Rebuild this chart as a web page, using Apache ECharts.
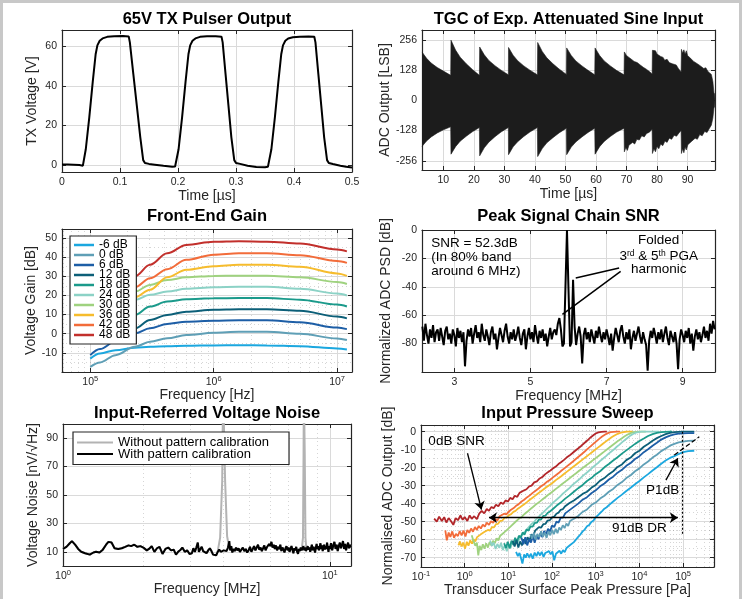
<!DOCTYPE html>
<html>
<head>
<meta charset="utf-8">
<title>Chart</title>
<script src="https://cdn.jsdelivr.net/npm/echarts@6/dist/echarts.min.js"></script>
<style>
html,body{margin:0;padding:0;background:#fff;}
#chart{width:751px;height:599px;}
</style>
</head>
<body>
<div id="chart"></div>
<script>
// ================= DATA =================
const panelTitles = ['65V TX Pulser Output', 'TGC of Exp. Attenuated Sine Input', 'Front-End Gain',
  'Peak Signal Chain SNR', 'Input-Referred Voltage Noise', 'Input Pressure Sweep'];

// Panel 1: TX pulser output [time us, volts]
const txVoltTicks = [0, 20, 40, 60];
const txPulse = [[0,0.3],[0.01,0.3],[0.02,0.2],[0.03,0],[0.036,-0.3],[0.041,8],[0.047,24],[0.053,42],[0.058,56],[0.061,60.5],[0.065,62.8],[0.07,64],[0.078,64.8],[0.09,65.1],[0.105,65.2],[0.115,65],[0.117,62],[0.123,46],[0.129,30],[0.135,14],[0.14,2.5],[0.143,1],[0.15,0.6],[0.16,0.2],[0.175,-0.4],[0.19,-0.8],[0.195,-0.7],
  [0.196,-0.6],[0.201,8],[0.207,24],[0.213,42],[0.218,56],[0.221,60.5],[0.225,62.8],[0.23,64],[0.238,64.8],[0.25,65.1],[0.265,65.1],[0.275,64.9],[0.277,62],[0.282,46],[0.287,30],[0.292,14],[0.297,2.5],[0.3,1],[0.307,0.6],[0.32,-0.3],[0.335,-1],[0.35,-1.1],[0.355,-0.9],
  [0.356,-0.8],[0.361,8],[0.367,24],[0.373,42],[0.378,56],[0.381,60.5],[0.385,62.8],[0.39,64],[0.398,64.6],[0.41,64.9],[0.425,65],[0.435,64.8],[0.437,62],[0.442,46],[0.447,30],[0.452,14],[0.457,2.5],[0.46,1],[0.467,0.5],[0.48,-0.3],[0.49,-0.9],[0.5,-1.2]];

// Panel 2: TGC envelope of the (dense) attenuated sine [time us, LSB]
const tgcTimeTicks = [10, 20, 30, 40, 50, 60, 70, 80, 90];
const tgcLsbTicks = [-256, -128, 0, 128, 256];
const tgcUpper = [[3,205],[4.5,178],[6,158],[8,139],[10,124],[12.4,106],
  [12.5,255],[14,213],[15.5,183],[17.5,155],[19.5,131],[21.8,106],
  [21.9,226],[23.4,193],[24.9,169],[26.9,147],[28.9,128],[31.3,108],
  [31.35,224],[32.85,191],[34.35,168],[36.35,146],[38.35,128],[40.8,108],
  [40.9,245],[42.4,207],[43.9,180],[45.9,155],[47.9,133],[50.3,110],
  [50.4,222],[51.9,190],[53.4,167],[55.4,146],[57.4,127],[59.6,108],
  [59.7,222],[61.2,190],[62.7,167],[64.7,146],[66.7,127],[69.2,108],
  [69.3,205],[70,190],[70.8,182],[71.5,175],[72.5,165],[73.5,160],[74.5,150],[75.5,140],[76.5,132],[77.5,122],[78.4,112],
  [78.5,212],[79,205],[79.5,210],[80,196],[80.5,200],[81.2,186],[82,182],[82.5,170],[83.3,174],[84,160],[85,155],[85.5,148],[86.3,150],[87,135],[87.9,120],
  [88,216],[88.4,200],[88.8,214],[89.2,195],[89.6,210],[90,190],[90.5,198],[91,178],[91.5,185],[92,165],[92.6,172],[93.2,155],[94,148],[94.6,152],[95.3,135],[96,138],[96.7,122],[97.3,128],[97.8,110],[98.3,80],[98.6,40],[98.9,0]];
const tgcLower = [[3,-195],[4.5,-172],[6,-155],[8,-138],[10,-125],[12.4,-112],
  [12.5,-228],[14,-196],[15.5,-173],[17.5,-152],[19.5,-133],[21.8,-115],
  [21.9,-235],[23.4,-201],[24.9,-177],[26.9,-154],[28.9,-134],[31.3,-115],
  [31.35,-230],[32.85,-197],[34.35,-175],[36.35,-153],[38.35,-134],[40.8,-115],
  [40.9,-238],[42.4,-204],[43.9,-180],[45.9,-158],[47.9,-138],[50.3,-118],
  [50.4,-230],[51.9,-198],[53.4,-176],[55.4,-155],[57.4,-136],[59.6,-118],
  [59.7,-228],[61.2,-196],[62.7,-174],[64.7,-153],[66.7,-135],[69.2,-118],
  [69.3,-218],[69.8,-200],[70.3,-212],[70.8,-190],[71.4,-198],[72,-178],[72.7,-185],[73.4,-165],[74.2,-168],[75,-150],[75.8,-155],[76.6,-140],[77.5,-135],[78.4,-122],
  [78.5,-225],[79,-205],[79.5,-218],[80,-195],[80.6,-205],[81.2,-185],[81.9,-192],[82.6,-172],[83.3,-178],[84,-160],[84.8,-165],[85.6,-148],[86.4,-152],[87.2,-138],[87.9,-128],
  [88,-225],[88.4,-205],[88.8,-222],[89.2,-198],[89.6,-210],[90.1,-188],[90.6,-195],[91.2,-175],[91.8,-180],[92.5,-160],[93.2,-165],[94,-145],[94.8,-150],[95.6,-132],[96.4,-136],[97.2,-118],[97.8,-105],[98.3,-75],[98.6,-40],[98.9,0]];

// Panel 3: front-end gain [Hz] -> dB
const gainLevels = ['-6 dB', '0 dB', '6 dB', '12 dB', '18 dB', '24 dB', '30 dB', '36 dB', '42 dB', '48 dB'];
const gainColors = ['#1ba7df', '#5f9fb6', '#1d5ea6', '#0c5f78', '#1b9a8b', '#8cd2c6', '#9fd27f', '#f6bc2d', '#f26c3a', '#c2302c'];
const gainDbTicks = [-10, 0, 10, 20, 30, 40, 50];
const gainFreq = [1e5, 1.2e5, 1.6e5, 2.3e5, 3.05e5, 4.2e5, 6e5, 1e6, 1.6e6, 2.7e6, 5e6, 1e7, 1.2e7];
const gainM6 = [-13, -10.3, -8.6, -7.3, -6.8, -6.5, -6.3, -6.1, -6, -6.1, -6.5, -7.7, -8.2];
const gain0  = [-17.3, -15, -11.2, -6.8, -4.2, -2.4, -0.7, 0.5, 1, 1, 0, -2.5, -3.3];
const gain6  = [-11.2, -8, -4, 0.2, 2.8, 5.1, 6.3, 6.8, 7, 7, 6, 3.2, 2.4];
const gain12 = [-3, -1.5, 0.5, 2.8, 7.2, 9.8, 11.5, 12.5, 12.8, 12.8, 12, 9, 8];
const gain18 = [0, 3, 6, 9.8, 14.2, 16.8, 18, 18.5, 18.6, 18.6, 17.8, 15.2, 14.2];
const gain24 = [8, 11, 14.5, 17.7, 20.3, 22, 23.5, 24.3, 24.5, 24.5, 23.5, 21, 20];
const gain30 = [12, 15, 18.5, 22, 25.5, 28, 29.5, 30.2, 30.3, 30.3, 29.5, 27, 26];
const gain36 = [8, 11, 15, 19, 23, 29.5, 33.4, 35.3, 36, 36, 35, 31.5, 30.2];
const gain42 = [13, 16, 20, 24.3, 29, 33.7, 38.6, 41.3, 42, 42, 41, 38, 37];
const gain48 = [18, 21, 25, 30, 36, 42, 46.4, 48, 48.3, 48.1, 47.1, 44, 43];
const gainCurves = [gainM6, gain0, gain6, gain12, gain18, gain24, gain30, gain36, gain42, gain48];

// Panel 4: PSD, sampled every 0.04 MHz from 2.16 MHz
const psdFreqStart = 2.16, psdFreqStep = 0.04;
const psdFreqTicks = [3, 5, 7, 9];
const psdDbTicks = [-80, -60, -40, -20, 0];
const psdValues = [
  -68,-78,-66,-74,-80,-70,-76,-67,-79,-72,-70,-78,-69,-75,-81,-71,-68,-77,-73,-80,
  -70,-74,-82,-69,-76,-71,-79,-72,-96,-78,-70,-75,-69,-80,-73,-67,-76,-72,-79,-66,
  -74,-78,-70,-75,-81,-72,-68,-77,-73,-84,-76,-69,-74,-79,-71,-66,-75,-80,-72,-77,
  -70,-78,-74,-68,-76,-81,-73,-70,-84,-75,-69,-77,-72,-79,-67,-74,-80,-71,-76,-70,
  -78,-73,-82,-75,-69,-77,-72,-70,-74,-66,-62,-70,-82,-80,-40,0,-42,-82,-79,-35,
  -68,-81,-73,-68,-75,-94,-74,-69,-77,-72,-79,-70,-75,-80,-71,-76,-68,-74,-79,-72,
  -77,-70,-75,-81,-73,-85,-76,-69,-74,-79,-71,-67,-75,-80,-72,-77,-70,-84,-76,-71,
  -78,-73,-68,-75,-80,-72,-77,-81,-99,-78,-71,-76,-69,-74,-80,-72,-77,-70,-79,-73,
  -68,-76,-81,-71,-75,-79,-72,-80,-98,-77,-70,-74,-79,-71,-76,-69,-80,-73,-85,-75,
  -70,-77,-72,-79,-74,-68,-76,-71,-78,-66,-73,-64,-70];

// Panel 5: input-referred noise [MHz, nV/sqrtHz]
const noiseTicks = [10, 30, 50, 70, 90];
const noiseCal = [[1,12],[1.03,13.5],[1.06,16],[1.08,17.5],[1.11,15],[1.14,12],[1.17,10],[1.21,9],[1.26,8],[1.3,9.5],[1.33,10],[1.37,9.5],[1.41,11.5],[1.45,15],[1.48,17],[1.52,16.5],[1.56,12.5],[1.61,12],[1.66,12.5],[1.71,13.5],[1.76,14.5],[1.8,14],[1.85,15],[1.9,13.5],[1.95,14],[2,13],[2.06,11],[2.1,12],[2.15,14],[2.2,10],[2.25,12.5],[2.3,13.5],[2.36,8.5],[2.42,12],[2.48,13],[2.54,11],[2.6,11.5],[2.65,8],[2.7,10],[2.76,11.5],[2.8,13],[2.86,10],[2.92,11],[2.98,8.5],[3.04,9],[3.08,12.5],[3.12,10],[3.16,13],[3.2,16.5],[3.23,10],[3.27,12],[3.31,13.5],[3.35,10.5],[3.4,11.5],[3.45,9],[3.5,11],[3.55,12.5],[3.6,10.5],[3.65,8],[3.7,7],[3.75,7.5],[3.8,10],[3.85,11.5],[3.9,10],[3.95,9.5],[4,11],[4.05,12],[4.1,10.5],[4.15,13],[4.2,17.5],[4.23,11],[4.27,14],[4.31,9.5],[4.35,12],[4.4,10.5],[4.45,13],[4.5,11],[4.55,12.5],[4.6,10],[4.66,11.5],[4.72,13],[4.78,10.5],[4.84,12],[4.9,9.5],[4.96,11],[5.02,13.5],[5.08,10],[5.14,12],[5.2,14],[5.26,11],[5.32,13],[5.38,15],[5.44,11.5],[5.5,13],[5.56,10.5],[5.62,12.5],[5.68,14.5],[5.74,11],[5.8,13],[5.86,12],[5.92,15.5],[5.98,14],[6.04,17],[6.1,13],[6.16,15],[6.22,12],[6.28,14.5],[6.34,11],[6.4,13.5],[6.46,12],[6.52,15],[6.58,10.5],[6.64,13],[6.7,11.5],[6.76,9.5],[6.82,12.5],[6.88,14],[6.94,11],[7,13],[7.06,10],[7.12,12],[7.18,14],[7.24,11.5],[7.3,9],[7.36,12.5],[7.42,11],[7.48,13.5],[7.54,10],[7.6,8.5],[7.66,12],[7.72,10.5],[7.78,13],[7.84,11],[7.9,12.5],[7.96,14],[8.02,11],[8.08,13],[8.14,10.5],[8.2,12],[8.26,14],[8.32,11.5],[8.38,13],[8.44,10],[8.5,12.5],[8.56,15],[8.62,11],[8.68,13.5],[8.74,12],[8.8,9.5],[8.86,13],[8.92,15.5],[8.98,12],[9.04,14],[9.1,11],[9.16,13.5],[9.22,16],[9.28,12],[9.34,14.5],[9.4,10.5],[9.46,13],[9.52,15],[9.58,11.5],[9.64,14],[9.7,12],[9.76,16.5],[9.82,13],[9.88,10],[9.94,14],[10,12],[10.1,16],[10.2,11],[10.3,14.5],[10.4,17],[10.5,12],[10.6,15],[10.7,10.5],[10.8,14],[10.9,16.5],[11,12.5],[11.1,15],[11.2,17.5],[11.3,12],[11.4,15.5],[11.5,11],[11.6,14],[11.7,16.5],[11.8,12.5],[11.9,15],[12,13]];
const noiseUncalSpikes = [[3.8,10.5],[3.88,20],[3.95,60],[3.98,125],[4.01,125],[4.05,60],[4.12,21],[4.2,12],
  [7.86,12],[7.93,20],[7.97,80],[7.99,125],[8.02,125],[8.05,80],[8.1,20],[8.16,12.5]];

// Panel 6: input pressure sweep [Pa, dB], one curve per gain setting
const sweepDbTicks = [-70, -60, -50, -40, -30, -20, -10, 0];
const sweep48 = [[0.2,-48.3],[0.23,-50],[0.26,-47.2],[0.3,-49.6],[0.34,-47.5],[0.38,-50.5],[0.43,-48],[0.48,-49.5],[0.55,-51.8],[0.62,-48],[0.7,-49.2],[0.8,-46.6],[0.9,-49],[1,-47.4],[1.15,-49.6],[1.3,-46.5],[1.45,-48.4],[1.65,-47],[1.9,-48.6],[2.15,-45.5],[2.45,-44],[2.8,-45.4],[3.2,-43],[3.6,-44],[4.1,-41.8],[4.6,-42.6],[5.2,-40.6],[5.9,-41.4],[6.7,-39.4],[7.6,-40.2],[8.6,-38.2],[9.8,-38.8],[11,-36.8],[12.5,-37.6],[14,-35.6],[16,-36.2],[18,-34],[20,-34.6],[23,-32.6],[26,-32],[30,-30.4],[34,-30],[39,-28.2],[45,-27.6],[52,-26],[60,-25.2],[70,-23.6],[80,-22.6],[92,-21.6],[105,-20.4],[122,-19.4],[140,-18],[160,-17],[185,-15.8],[215,-14.4],[250,-13.3],[290,-12],[340,-10.6],[400,-9.2],[470,-7.8],[550,-6.3],[650,-4.8],[760,-3.2],[880,-2],[1000,-1],[1150,-0.4],[1350,-0.1],[1600,0],[1800,0]];
const sweep42 = [[0.36,-54.8],[0.39,-60.4],[0.43,-56],[0.47,-58.5],[0.52,-55.4],[0.57,-59],[0.63,-56.8],[0.7,-58],[0.77,-55.2],[0.85,-57.6],[0.94,-55],[1.04,-58.2],[1.15,-54.6],[1.27,-56.2],[1.4,-53.8],[1.55,-55.6],[1.72,-53],[1.9,-54.6],[2.1,-52.4],[2.35,-53.8],[2.6,-51.6],[2.9,-52.8],[3.2,-50.6],[3.6,-51.8],[4,-49.8],[4.5,-50.6],[5,-48.4],[5.6,-49.4],[6.3,-47],[7,-47.6],[8,-45.6],[9,-46],[10,-44.6],[11.5,-43.4],[13,-42.6],[15,-41.2],[17,-40.4],[20,-38.8],[23,-37.8],[27,-36.4],[31,-35.4],[36,-34],[42,-32.8],[49,-31.6],[57,-30.2],[66,-29.2],[77,-27.8],[90,-26.8],[105,-25.4],[122,-24.2],[142,-23],[165,-21.6],[192,-20.4],[225,-19],[260,-17.8],[300,-16.6],[350,-15.2],[410,-13.8],[480,-12.4],[560,-11],[650,-9.6],[760,-8.2],[880,-6.8],[1030,-5.4],[1200,-4],[1400,-2.7],[1650,-1.6],[1900,-0.8],[2200,-0.3],[2600,-0.1],[3100,0],[3600,0]];
const sweep36 = [[0.72,-63.2],[0.78,-61],[0.85,-63.8],[0.93,-61.6],[1.02,-65],[1.12,-61.2],[1.22,-63.4],[1.34,-60.4],[1.47,-62.2],[1.6,-59.8],[1.75,-61],[1.92,-58.6],[2.1,-59.6],[2.3,-57.2],[2.55,-58],[2.8,-55.8],[3.1,-56.6],[3.4,-54.6],[3.8,-55],[4.2,-53],[4.7,-53.2],[5.2,-51.4],[5.8,-51.2],[6.5,-49.6],[7.3,-49.4],[8.2,-47.8],[9.2,-47.6],[10.3,-46.4],[11.6,-45.8],[13,-44.6],[14.6,-44],[16.5,-42.8],[18.5,-42],[21,-41],[24,-40],[27,-39],[31,-37.8],[35,-36.9],[40,-35.8],[46,-34.6],[53,-33.5],[61,-32.4],[70,-31.3],[81,-30.2],[93,-29.2],[107,-28.1],[124,-26.8],[143,-25.7],[165,-24.6],[190,-23.4],[220,-22.2],[255,-21],[295,-19.8],[340,-18.7],[395,-17.4],[460,-16.2],[530,-15],[615,-13.8],[710,-12.6],[820,-11.4],[950,-10.2],[1100,-9],[1280,-7.8],[1480,-6.6],[1720,-5.4],[2000,-4.2],[2350,-3],[2750,-2],[3200,-1.2],[3750,-0.6],[4400,-0.2],[5200,0],[7000,0]];
const sweep30 = [[1.45,-57.5],[1.6,-61],[1.75,-63.4],[1.9,-61.6],[2.05,-68.7],[2.2,-63.5],[2.4,-65.8],[2.6,-62.6],[2.85,-65],[3.1,-62],[3.4,-64.4],[3.7,-61.4],[4.05,-63.2],[4.45,-60.6],[4.9,-62],[5.4,-59.2],[5.9,-60.4],[6.5,-57.8],[7.2,-58.4],[8,-56],[8.8,-56.2],[9.7,-54.2],[10.7,-54],[11.8,-52.2],[13,-51.8],[14.4,-50.2],[16,-49.6],[17.8,-48.2],[19.8,-47.6],[22,-46.4],[25,-45.2],[28,-44.2],[32,-43],[36,-42],[41,-40.8],[47,-39.7],[54,-38.6],[62,-37.4],[71,-36.3],[82,-35.1],[95,-33.9],[110,-32.7],[127,-31.5],[147,-30.3],[170,-29.1],[197,-27.9],[228,-26.7],[265,-25.5],[305,-24.3],[355,-23.1],[410,-21.9],[475,-20.7],[550,-19.5],[640,-18.3],[740,-17.1],[860,-15.9],[1000,-14.7],[1160,-13.5],[1350,-12.3],[1560,-11.1],[1800,-9.9],[2100,-8.7],[2450,-7.4],[2850,-6.2],[3300,-5],[3900,-3.8],[4600,-2.6],[5400,-1.6],[6300,-0.8],[7400,-0.3],[8700,-0.1],[10000,0],[14000,0]];
const sweep24 = [[3.8,-60.5],[4.2,-63.4],[4.6,-61.6],[5.1,-65.2],[5.6,-62.4],[6.2,-64.6],[6.8,-61.8],[7.5,-65.8],[8.3,-63],[9.2,-66.4],[10.1,-62.6],[11.2,-64.8],[12.4,-61.4],[13.7,-63.2],[15.1,-60.4],[16.7,-61.6],[18.4,-58.4],[20.3,-58.8],[22.5,-56.4],[25,-55.8],[28,-53.6],[31,-53],[35,-51],[39,-50.2],[44,-48.4],[50,-47.2],[56,-46],[63,-44.8],[71,-43.6],[80,-42.4],[90,-41.2],[102,-39.8],[116,-38.6],[132,-37.4],[150,-36.2],[171,-34.8],[195,-33.6],[222,-32.4],[253,-31.2],[288,-29.8],[330,-28.6],[378,-27.4],[432,-26.2],[495,-24.8],[566,-23.6],[650,-22.4],[745,-21.2],[855,-19.8],[980,-18.6],[1130,-17.4],[1300,-16],[1500,-14.8],[1720,-13.6],[1980,-12.2],[2280,-11],[2630,-9.8],[3030,-8.4],[3500,-7.2],[4040,-5.8],[4660,-4.6],[5380,-3.4],[6200,-2.2],[7150,-1.3],[8250,-0.6],[9500,-0.2],[11000,0],[16000,0],[24000,0],[28000,0]];
const sweep18 = [[8,-62],[8.8,-64.6],[9.7,-61.2],[10.7,-64.8],[11.8,-60.6],[13,-62.8],[14.3,-59],[15.8,-61.2],[17.4,-57.8],[19.2,-59],[21.2,-56],[23.4,-57.2],[26,-54.4],[29,-55],[32,-52.8],[36,-52.8],[40,-50.8],[45,-50.6],[50,-48.8],[56,-48.8],[63,-46.8],[71,-46.6],[79,-45.2],[89,-44.4],[100,-43.4],[126,-41.2],[158,-39.4],[200,-37.2],[251,-35.4],[316,-33.4],[398,-31.4],[501,-29.6],[631,-27.4],[794,-25.8],[1000,-23.6],[1260,-22],[1580,-19.8],[2000,-18],[2510,-16],[3160,-14.2],[3980,-12.2],[5010,-10.4],[6310,-8.6],[7940,-6.8],[10000,-5.2],[12600,-3.8],[15800,-2.4],[20000,-1.4],[25100,-0.7],[31600,-0.3],[39800,-0.1],[50100,0],[56000,0]];
const sweep12 = [[12.6,-60.6],[13.9,-63.8],[15.3,-60.2],[16.9,-64.4],[18.6,-61],[20.5,-63.2],[22.6,-59.8],[25,-62.4],[27.5,-58.6],[30.4,-60.8],[33.5,-57],[37,-58.2],[41,-55],[45,-55.8],[50,-53],[56,-53.4],[63,-51.4],[71,-51.2],[79,-49.4],[89,-49.2],[100,-47.6],[112,-47.2],[126,-45.6],[141,-45],[158,-43.4],[178,-43],[200,-41.4],[251,-39.6],[316,-38.2],[398,-36.4],[501,-34.6],[631,-33.4],[794,-31.2],[1000,-29.6],[1260,-27.2],[1580,-25.8],[2000,-23.6],[2510,-22],[3160,-19.6],[3980,-18.2],[5010,-15.8],[6310,-14.4],[7940,-12],[10000,-10.6],[12600,-8.4],[15800,-6.8],[20000,-5],[25100,-3.6],[31600,-2.4],[39800,-1.4],[50100,-0.7],[63100,-0.3],[79400,-0.1],[100000,0],[180000,0]];
const sweep6 = [[20,-59],[22,-62.6],[24.5,-58.6],[27,-63.2],[30,-59.6],[33,-61.6],[36.5,-57.8],[40,-61.8],[44.5,-57.6],[49,-59.8],[54,-56.4],[60,-58.6],[66,-55.2],[73,-57],[81,-54],[90,-55.4],[100,-52.2],[112,-53],[126,-50],[141,-50.6],[158,-47.8],[178,-47.8],[200,-45.4],[251,-43.6],[316,-41.8],[398,-40],[501,-37.8],[631,-36.4],[794,-34.2],[1000,-32.6],[1260,-30.4],[1580,-28.8],[2000,-26.6],[2510,-25],[3160,-22.8],[3980,-21.2],[5010,-19],[6310,-17.4],[7940,-15.2],[10000,-13.6],[12600,-11.4],[15800,-9.8],[20000,-7.8],[25100,-6.2],[31600,-4.4],[39800,-3.2],[50100,-2.2],[63100,-1.5],[79400,-1.1],[100000,-0.9],[130000,-0.8],[180000,-0.8]];
const sweep0 = [[32,-57],[35,-59.4],[38.5,-56.2],[42,-60],[46,-56.8],[51,-58.6],[56,-55.4],[62,-58.4],[68,-56],[75,-59],[83,-55.4],[91,-57.6],[100,-54.6],[110,-57],[121,-54],[133,-56.4],[146,-53.2],[160,-54.6],[176,-52],[194,-53.6],[213,-51],[234,-52.4],[257,-49.6],[283,-50.6],[316,-48.4],[398,-46.8],[501,-44.6],[631,-43.2],[794,-40.8],[1000,-39.4],[1260,-37.2],[1580,-35.6],[2000,-33.4],[2510,-31.8],[3160,-29.6],[3980,-28],[5010,-25.8],[6310,-24.2],[7940,-22],[10000,-20.4],[12600,-18.2],[15800,-16.6],[20000,-14.4],[25100,-12.8],[31600,-10.8],[39800,-9.4],[50100,-7.8],[63100,-6.8],[79400,-6],[100000,-5.5],[130000,-5.1],[180000,-5]];
const sweepM6 = [[15,-66.8],[16.5,-69.2],[18,-67.4],[19.5,-70.4],[21,-73.3],[23,-68.2],[25,-70],[27,-67.6],[30,-69.8],[33,-67.8],[36,-70.6],[40,-67.2],[44,-69.2],[48,-66.8],[53,-68.8],[58,-66.8],[64,-69.6],[70,-67.4],[77,-68.4],[85,-66.4],[93,-68.2],[102,-66.6],[112,-71.5],[123,-67.8],[135,-68.6],[148,-66.2],[162,-67.8],[178,-65.8],[195,-67],[215,-64.6],[236,-65.6],[260,-63],[285,-63.4],[316,-61.4],[350,-60.6],[398,-58.4],[450,-57],[501,-55.4],[560,-54.4],[631,-52.6],[710,-51.8],[794,-50.2],[890,-49.4],[1000,-47.6],[1130,-46.4],[1260,-45.2],[1420,-44],[1580,-42.8],[1780,-42],[2000,-40.8],[2510,-38.8],[3160,-36.8],[3980,-35],[5010,-33],[6310,-31.2],[7940,-29.2],[10000,-27.4],[12600,-25.4],[15800,-23.6],[20000,-21.6],[25100,-19.8],[31600,-17.8],[39800,-16],[50100,-14.6],[63100,-13.6],[79400,-12.4],[100000,-11.4],[130000,-10.8],[180000,-10.6]];
const sweepCurves = [sweep48, sweep42, sweep36, sweep30, sweep24, sweep18, sweep12, sweep6, sweep0, sweepM6];
const sweepColors = ['#b2262a', '#f26c3a', '#f6bc2d', '#9fd27f', '#8cd2c6', '#1b9a8b', '#0c5f78', '#1d5ea6', '#5f9fb6', '#1ba7df'];

// ================= STYLE / LAYOUT =================
const FONT = '"Liberation Sans", Arial, Helvetica, sans-serif';
const AXC = '#262626';
const GRIDC = '#dadada';
const MINORC = 'rgba(0,0,0,0.16)';
const TICKFS = 10.5;

const grids = [
  {left: 62, top: 30, width: 290, height: 142},
  {left: 422, top: 30, width: 293, height: 140},
  {left: 62, top: 229, width: 290, height: 143},
  {left: 422, top: 230, width: 293, height: 142},
  {left: 63, top: 424, width: 288, height: 142},
  {left: 421, top: 425, width: 293, height: 142}
];

function merge(a, b) {
  const o = Object.assign({}, a);
  for (const k in b) {
    const bv = b[k], av = a ? a[k] : undefined;
    if (bv && typeof bv === 'object' && !Array.isArray(bv) && av && typeof av === 'object' && !Array.isArray(av)) o[k] = merge(av, bv);
    else o[k] = bv;
  }
  return o;
}
function axisBase(gi) {
  return {
    gridIndex: gi, type: 'value', silent: true,
    axisLine: {show: true, onZero: false, lineStyle: {color: AXC, width: 1.2}},
    axisTick: {show: true, inside: true, length: 4, lineStyle: {color: AXC, width: 1}},
    axisLabel: {show: true, margin: 5, color: AXC, fontSize: TICKFS, fontFamily: FONT, hideOverlap: false},
    splitLine: {show: true, lineStyle: {color: GRIDC, width: 1}},
    minorTick: {show: false}, minorSplitLine: {show: false},
    nameLocation: 'middle',
    nameTextStyle: {color: AXC, fontSize: 14, fontFamily: FONT}
  };
}
function logLabel(v) {
  const e = Math.log10(v), r = Math.round(e);
  if (Math.abs(e - r) > 1e-6) return '';
  return '{b|10}{s|' + r + '}';
}
const logRich = {
  b: {fontSize: TICKFS, fontFamily: FONT, color: AXC},
  s: {fontSize: 7.5, fontFamily: FONT, color: AXC, padding: [0, 0, 6, 0]}
};
function logX(min, max, name, gap) {
  return {type: 'log', logBase: 10, min: min, max: max, name: name, nameGap: gap,
    axisLabel: {formatter: logLabel, rich: logRich, margin: 3}};
}
function custom(vals) { return {axisLabel: {customValues: vals}, axisTick: {customValues: vals}}; }

const xAxes = [], yAxes = [];
function addAxes(gi, xo, yo) {
  const xm = merge(axisBase(gi), merge({position: 'bottom'}, xo));
  const ym = merge(axisBase(gi), merge({position: 'left'}, yo));
  xAxes.push(xm, merge(xm, {position: 'top', name: '', axisLabel: {show: false}, splitLine: {show: false}}));
  yAxes.push(ym, merge(ym, {position: 'right', name: '', axisLabel: {show: false}, splitLine: {show: false}}));
}
addAxes(0, {min: 0, max: 0.5, interval: 0.1, name: 'Time [µs]', nameGap: 16},
  merge({min: -3.5, max: 68.25, name: 'TX Voltage [V]', nameGap: 23}, custom(txVoltTicks)));
addAxes(1, merge({min: 3, max: 99, name: 'Time [µs]', nameGap: 17}, custom(tgcTimeTicks)),
  merge({min: -295, max: 298, name: 'ADC Output [LSB]', nameGap: 28}, custom(tgcLsbTicks)));
addAxes(2, logX(5.9e4, 1.32e7, 'Frequency [Hz]', 12),
  merge({min: -20, max: 54.7, name: 'Voltage Gain [dB]', nameGap: 22}, custom(gainDbTicks)));
addAxes(3, merge({min: 2.15, max: 9.85, name: 'Frequency [MHz]', nameGap: 12}, custom(psdFreqTicks)),
  merge({min: -100, max: 0, name: 'Normalized ADC PSD [dB]', nameGap: 29}, custom(psdDbTicks)));
addAxes(4, logX(1, 12, 'Frequency [MHz]', 11),
  merge({min: 0, max: 100, name: 'Voltage Noise [nV/√Hz]', nameGap: 23}, custom(noiseTicks)));
addAxes(5, logX(0.1, 5.1e5, 'Transducer Surface Peak Pressure [Pa]', 15),
  merge({min: -75.2, max: 3.7, name: 'Normalised ADC Output [dB]', nameGap: 26}, custom(sweepDbTicks)));

function lineS(name, gi, data, color, width, extra) {
  return merge({type: 'line', name: name, xAxisIndex: 2 * gi, yAxisIndex: 2 * gi, data: data,
    symbol: 'none', showSymbol: false, silent: true, z: 3, emphasis: {disabled: true},
    lineStyle: {color: color, width: width}, itemStyle: {color: color}}, extra || {});
}
function logMinor(min, max) {
  const out = [];
  for (let e = Math.floor(Math.log10(min)); e <= Math.ceil(Math.log10(max)); e++) {
    for (let m = 2; m <= 9; m++) {
      const v = +(m * Math.pow(10, e)).toPrecision(6);
      if (v > min && v < max) out.push(v);
    }
  }
  return out;
}
function carrier(gi, anchor, mlData, mlStyle, z) {
  return {type: 'line', xAxisIndex: 2 * gi, yAxisIndex: 2 * gi, data: [anchor], symbol: 'none',
    lineStyle: {opacity: 0}, silent: true, z: z, emphasis: {disabled: true},
    markLine: {silent: true, symbol: ['none', 'none'], symbolSize: 8, z: z, animation: false,
      label: {show: false}, emphasis: {disabled: true}, lineStyle: mlStyle, data: mlData}};
}
function gridLines(xs, ys) {
  return xs.map(v => ({xAxis: v})).concat(ys.map(v => ({yAxis: v})));
}

const series = [];
// Panel 1
series.push(lineS('TX pulse', 0, txPulse, '#000', 2));
// Panel 2 (areas overlap slightly around 0 so that no seam shows)
series.push(lineS('TGC upper', 1, tgcUpper, '#1c1c1c', 0.6, {areaStyle: {color: '#1c1c1c', opacity: 1, origin: -30}}));
series.push(lineS('TGC lower', 1, tgcLower, '#1c1c1c', 0.6, {areaStyle: {color: '#1c1c1c', opacity: 1, origin: 30}}));
// Panel 3
gainCurves.forEach((vals, i) => {
  series.push(lineS(gainLevels[i], 2, gainFreq.map((f, j) => [f, vals[j]]), gainColors[i], 2,
    {smooth: 0.35, smoothMonotone: 'x'}));
});
series.push(carrier(2, [1e5, -20], gridLines(logMinor(5.9e4, 1.32e7), [-15, -5, 5, 15, 25, 35, 45]),
  {color: MINORC, type: [1, 3], width: 1}, 1));
// Panel 4
series.push(lineS('PSD', 3, psdValues.map((v, i) => [+(psdFreqStart + i * psdFreqStep).toFixed(2), v]), '#000', 2, {
  markLine: {silent: true, symbol: ['none', 'none'], animation: false, label: {show: false}, z: 5,
    lineStyle: {color: '#000', width: 1.5, type: 'solid'},
    data: [[{coord: [6.19, -33.8]}, {coord: [7.33, -26.8]}], [{coord: [5.84, -59.4]}, {coord: [7.37, -29.2]}]]}
}));
// Panel 5
const noiseUncal = noiseCal.filter(p => !(p[0] > 3.78 && p[0] < 4.22) && !(p[0] > 7.84 && p[0] < 8.18))
  .concat(noiseUncalSpikes).sort((a, b) => a[0] - b[0]);
series.push(carrier(4, [1, 0], gridLines(logMinor(1, 12), []), {color: MINORC, type: [1, 3], width: 1}, 1));
series.push(lineS('Without pattern calibration', 4, noiseUncal, '#b3b3b3', 2));
series.push(lineS('With pattern calibration', 4, noiseCal, '#000', 2));
// Panel 6
series.push(carrier(5, [0.1, -75], gridLines(logMinor(0.1, 5.1e5), [-65, -55, -45, -35, -25, -15, -5]),
  {color: MINORC, type: [1, 3], width: 1}, 1));
sweepCurves.forEach((d, i) => {
  series.push(lineS('sweep ' + gainLevels[9 - i], 5, d, sweepColors[i], 1.8));
});
const blk = {color: '#000', width: 1.3, type: 'solid'};
series.push(carrier(5, [0.1, -75], [
  [{coord: [1.16, -12], symbol: 'none'}, {coord: [2.42, -43.3], symbol: 'arrow'}],
  [{coord: [3.6, -47.8], symbol: 'arrow'}, {coord: [7.6e4, -47.8], symbol: 'arrow'}],
  [{coord: [40500, -26.9], symbol: 'none'}, {coord: [76000, -14.8], symbol: 'arrow'}],
  [{coord: [63000, -13], symbol: 'none', lineStyle: {type: 'dashed', color: '#000', width: 1.2}},
   {coord: [235000, -2.8], symbol: 'none', lineStyle: {type: 'dashed', color: '#000', width: 1.2}}],
  [{coord: [95000, 0], symbol: 'none', lineStyle: {type: [2, 2], color: '#000', width: 1.2}},
   {coord: [95000, -57.5], symbol: 'none', lineStyle: {type: [2, 2], color: '#000', width: 1.2}}]
], blk, 6));

const legendBase = {orient: 'vertical', icon: 'rect', selectedMode: false, backgroundColor: '#fff',
  borderColor: AXC, borderWidth: 1.2, borderRadius: 0, itemStyle: {borderWidth: 0}};
const option = {
  animation: false,
  backgroundColor: '#ffffff',
  textStyle: {fontFamily: FONT},
  grid: grids.map(g => Object.assign({containLabel: false, outerBoundsMode: 'none'}, g)),
  xAxis: xAxes,
  yAxis: yAxes,
  legend: [
    merge(legendBase, {data: gainLevels, left: 70, top: 236, padding: [3, 6, 3, 4], itemGap: -2,
      itemWidth: 20, itemHeight: 2.5, textStyle: {fontSize: 12, fontFamily: FONT, color: '#000'}}),
    merge(legendBase, {data: ['Without pattern calibration', 'With pattern calibration'], left: 73, top: 432,
      padding: [4, 20, 4, 4], itemGap: -1.5, itemWidth: 36, itemHeight: 2,
      textStyle: {fontSize: 13, fontFamily: FONT, color: '#000'}})
  ],
  series: series
};

const chart = echarts.init(document.getElementById('chart'), null, {renderer: 'canvas'});
chart.setOption(option);

// ================= TITLES & ANNOTATIONS =================
function txt(x, y, text, size, align, bold, rich) {
  const st = {text: text, fill: '#000', font: (bold ? 'bold ' : '') + size + 'px ' + FONT,
    align: align, verticalAlign: 'middle', textAlign: align, textVerticalAlign: 'middle'};
  if (rich) st.rich = rich;
  return {type: 'text', x: x, y: y, silent: true, z: 100, style: st};
}
function px(gi, x, y) { return chart.convertToPixel({xAxisIndex: 2 * gi, yAxisIndex: 2 * gi}, [x, y]); }
function dtxt(gi, x, y, text, size, align, rich) { const p = px(gi, x, y); return txt(p[0], p[1], text, size, align, false, rich); }

const graphics = [
  {type: 'rect', silent: true, z: 0, shape: {x: 1.5, y: 1.5, width: 739, height: 640},
    style: {fill: 'none', stroke: '#c8c8c8', lineWidth: 3}}
];
const titleRows = [19, 216.5, 413.5];
panelTitles.forEach((t, i) => {
  const g = grids[i];
  graphics.push(txt(g.left + g.width / 2, titleRows[Math.floor(i / 2)], t, 16.5, 'center', true));
});
const supRich = {s: {fontSize: 8.5, fontFamily: FONT, fill: '#000', color: '#000', padding: [0, 0, 6, 0]},
  n: {fontSize: 13.5, fontFamily: FONT, fill: '#000', color: '#000'}};
graphics.push(dtxt(3, 2.39, -9.4, 'SNR = 52.3dB', 13.5, 'left'));
graphics.push(dtxt(3, 2.39, -19.4, '(In 80% band', 13.5, 'left'));
graphics.push(dtxt(3, 2.39, -28.8, 'around 6 MHz)', 13.5, 'left'));
graphics.push(dtxt(3, 8.37, -7, 'Folded', 13.5, 'center'));
graphics.push(dtxt(3, 8.37, -18.7, '{n|3}{s|rd}{n| & 5}{s|th}{n| PGA}', 13.5, 'center', supRich));
graphics.push(dtxt(3, 8.37, -28, 'harmonic', 13.5, 'center'));
graphics.push(dtxt(5, 0.65, -5.6, '0dB SNR', 13.5, 'center'));
graphics.push(dtxt(5, 34000, -32.5, 'P1dB', 13.5, 'center'));
graphics.push(dtxt(5, 10000, -53.8, '91dB DR', 13.5, 'center'));
chart.setOption({graphic: graphics});
</script>
</body>
</html>
